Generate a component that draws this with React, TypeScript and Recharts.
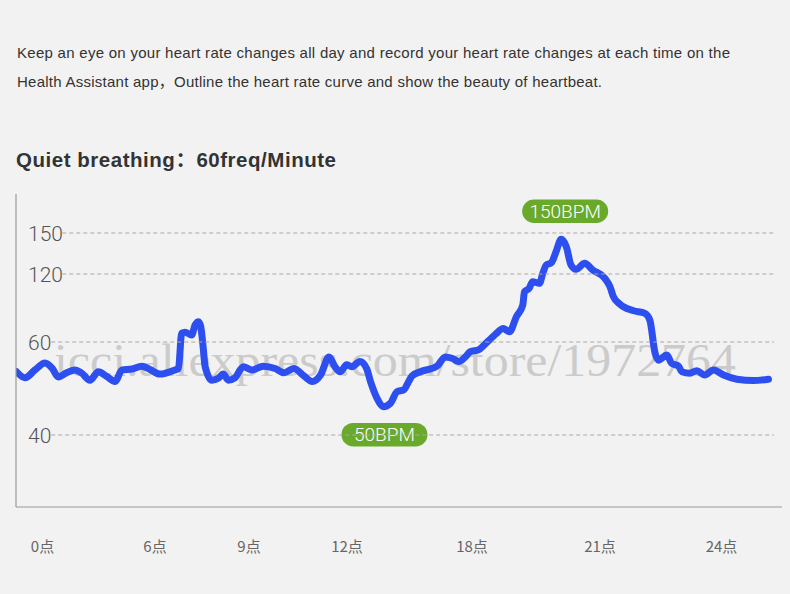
import React from 'react';
import { LineChart, Line, XAxis, YAxis, ReferenceDot } from 'recharts';

// ---------- data ----------
const hours = [
  -1.38, -0.93, -0.4, 0.13, 0.51, 0.84, 1.29, 1.73, 2.09, 2.53, 2.98, 3.39, 3.87, 4.24, 4.77, 5.29, 5.73,
  6.16, 6.64, 6.75, 6.85, 6.96, 7.17, 7.28, 7.39, 7.46, 7.53, 7.6, 7.81, 8.02, 8.18, 8.34, 8.55, 8.82,
  9.08, 9.44, 9.8, 10.07, 10.37, 10.68, 10.94, 11.19, 11.45, 11.63, 11.79, 11.99,
  12.23, 12.62, 12.94, 13.15, 13.43, 13.75, 14.08, 14.4, 14.72, 14.96, 15.12, 15.52, 16.32, 16.72, 17.04,
  17.36, 17.68, 17.92,
  18.15, 18.29, 18.45, 18.56, 18.73, 18.88, 19.04, 19.19, 19.23, 19.34, 19.42, 19.58, 19.66, 19.74, 19.86,
  19.97, 20.09, 20.21, 20.32, 20.44, 20.64, 20.83,
  21.12, 21.25, 21.33, 21.49, 21.58, 21.83, 22.11, 22.23, 22.36, 22.44, 22.65, 22.77, 22.94, 23.02, 23.22,
  23.39, 23.59, 23.8, 24.05, 24.38, 24.79, 25.16,
];
const heartRate = [
  53.6, 52.3, 54.0, 55.5, 54.4, 52.5, 53.4, 54.0, 53.3, 51.8, 53.6, 52.7, 51.5, 54.0, 54.2, 54.8, 54.1,
  53.1, 54.0, 54.3, 67.7, 68.6, 66.2, 75.0, 77.9, 73.5, 59.4, 54.7, 51.8, 52.2, 53.1, 51.8, 52.3, 54.7,
  54.0, 54.8, 54.3, 53.4, 54.3, 52.7, 51.5, 52.9, 56.8, 54.7, 53.6, 55.1,
  54.7, 55.8, 54.3, 51.2, 48.0, 46.1, 46.8, 49.3, 49.7, 51.5, 52.7, 53.6, 54.8, 56.8, 56.5,
  55.8, 56.8, 57.9,
  58.3, 59.4, 63.3, 67.1, 71.9, 69.1, 82.3, 92.6, 104.4, 107.4, 113.2, 111.8, 120.5, 126.6, 128.3,
  136.3, 145.4, 140.0, 126.6, 123.4, 127.8, 122.9,
  116.2, 108.5, 100.0, 93.5, 91.1, 87.6, 85.3, 79.4, 57.6, 56.1, 57.2, 55.4, 54.8, 53.6, 53.3,
  53.8, 52.9, 54.0, 52.9, 52.0, 51.7, 52.0,
];

const hourTicks = [0, 6, 9, 12, 18, 21, 24];
const hourTickLabels = ['0点', '6点', '9点', '12点', '18点', '21点', '24点'];
const bpmTicks = [40, 60, 120, 150];
const bpmTickLabels = ['40', '60', '120', '150'];
const peakLabel = '150BPM';
const lowLabel = '50BPM';

const introLine1 =
  'Keep an eye on your heart rate changes all day and record your heart rate changes at each time on the';
const introLine2 = 'Health Assistant app，Outline the heart rate curve and show the beauty of heartbeat.';
const title = 'Quiet breathing：60freq/Minute';
const watermark = 'icci.aliexpress.com/store/1972764';

// ---------- layout ----------
const W = 790;
const H = 594;
const PLOT = { left: 16, top: 194, right: 782, bottom: 507 };
const X_AXIS_H = 40;
const Y_AXIS_W = 1;
// the original chart uses uneven axis spacing: axis-unit stops for each tick
const X_STOPS = [26.5, 139, 233, 331, 456, 584, 705.5];
const Y_STOPS = [72, 165, 233, 274];
const X_DOMAIN: [number, number] = [0, PLOT.right - PLOT.left];
const Y_DOMAIN: [number, number] = [0, PLOT.bottom - PLOT.top];

function piecewise(v: number, keys: number[], stops: number[]) {
  let i = 0;
  if (v >= keys[keys.length - 1]) i = keys.length - 2;
  else if (v > keys[0]) {
    while (v > keys[i + 1]) i++;
  }
  const k0 = keys[i];
  const k1 = keys[i + 1];
  const s0 = stops[i];
  const s1 = stops[i + 1];
  return s0 + ((v - k0) * (s1 - s0)) / (k1 - k0);
}

const chartData = hours.map((h, i) => ({
  t: piecewise(h, hourTicks, X_STOPS),
  v: piecewise(heartRate[i], bpmTicks, Y_STOPS),
}));
const xTickLevels = hourTicks.map((h) => piecewise(h, hourTicks, X_STOPS));
const yTickLevels = bpmTicks.map((b) => piecewise(b, bpmTicks, Y_STOPS));

let peakIdx = 0;
let lowIdx = 0;
heartRate.forEach((v, i) => {
  if (v > heartRate[peakIdx]) peakIdx = i;
  if (v < heartRate[lowIdx]) lowIdx = i;
});

const findIdx = (arr: number[], v: number) => arr.findIndex((a) => Math.abs(a - v) < 1e-6);

const SANS = "'Liberation Sans', Arial, 'Noto Sans CJK SC', sans-serif";
const LIGHT = "Roboto, 'Noto Sans', 'Noto Sans CJK SC', sans-serif";

const XTick = (props: any) => {
  const { x, payload } = props;
  const i = findIdx(xTickLevels, payload.value);
  return (
    <text
      x={x}
      y={PLOT.bottom + 38}
      textAnchor="middle"
      dominantBaseline="central"
      fill="#666"
      fontSize={15}
      fontFamily="'Noto Sans CJK SC', sans-serif"
    >
      {hourTickLabels[i]}
    </text>
  );
};

const YTick = (props: any) => {
  const { y, payload } = props;
  const i = findIdx(yTickLevels, payload.value);
  const label = bpmTickLabels[i] ?? '';
  const tx = PLOT.left + 12;
  const lineStart = tx + label.length * 11.1 + 1;
  return (
    <g>
      <text x={tx} y={y} dy="0.36em" fill="#555" fontSize={21} fontWeight={300} fontFamily={LIGHT}>
        {label}
      </text>
      <line x1={lineStart} x2={774} y1={y} y2={y} stroke="#a8a8a8" strokeWidth={1} strokeDasharray="4 3" />
    </g>
  );
};

const makeBadge = (label: string, dx: number, dy: number) => (p: any) => {
  const bw = 86;
  const bh = 23.5;
  const cx = p.cx + dx;
  const cy = p.cy + dy;
  return (
    <g>
      <rect x={cx - bw / 2} y={cy - bh / 2} width={bw} height={bh} rx={bh / 2} fill="#6aaa2a" />
      <text
        x={cx}
        y={cy}
        dy="0.36em"
        textAnchor="middle"
        fill="#fff"
        fontSize={19}
        fontWeight={300}
        fontFamily={LIGHT}
      >
        {label}
      </text>
    </g>
  );
};

export default function App() {
  return (
    <div style={{ position: 'absolute', left: 0, top: 0, width: W, height: H, background: '#f2f2f2', overflow: 'hidden' }}>
      <svg width={W} height={H} style={{ position: 'absolute', left: 0, top: 0 }}>
        <text x={17} y={58.3} fontSize={15} fill="#333" fontFamily={SANS} textLength={713} lengthAdjust="spacing">
          {introLine1}
        </text>
        <text x={17} y={86.7} fontSize={15} fill="#333" fontFamily={SANS} textLength={585} lengthAdjust="spacing">
          {introLine2}
        </text>
        <text
          x={16}
          y={166.7}
          fontSize={20.5}
          fontWeight={700}
          fill="#333"
          fontFamily={SANS}
          textLength={320}
          lengthAdjust="spacing"
        >
          {title}
        </text>
        <text
          x={54}
          y={376}
          fontSize={46}
          fill="#cbcbcb"
          fontFamily="'Liberation Serif', 'DejaVu Serif', serif"
          textLength={682}
          lengthAdjust="spacingAndGlyphs"
        >
          {watermark}
        </text>
      </svg>
      <div style={{ position: 'absolute', left: 0, top: 0 }}>
        <LineChart
          width={W}
          height={H}
          data={chartData}
          margin={{
            top: PLOT.top,
            left: PLOT.left - Y_AXIS_W,
            right: W - PLOT.right,
            bottom: H - PLOT.bottom - X_AXIS_H,
          }}
        >
          <XAxis
            type="number"
            dataKey="t"
            domain={X_DOMAIN}
            ticks={xTickLevels}
            interval={0}
            height={X_AXIS_H}
            tickLine={false}
            axisLine={{ stroke: '#9a9a9a', strokeWidth: 1.2 }}
            tick={<XTick />}
            allowDataOverflow
          />
          <YAxis
            type="number"
            domain={Y_DOMAIN}
            ticks={yTickLevels}
            interval={0}
            width={Y_AXIS_W}
            tickLine={false}
            axisLine={{ stroke: '#9a9a9a', strokeWidth: 1.2 }}
            tick={<YTick />}
            allowDataOverflow
          />
          <Line
            type="monotone"
            dataKey="v"
            stroke="#2d4ff0"
            strokeWidth={7}
            strokeLinecap="round"
            strokeLinejoin="round"
            dot={false}
            activeDot={false}
            isAnimationActive={false}
          />
          <ReferenceDot
            x={chartData[peakIdx].t}
            y={chartData[peakIdx].v}
            r={0}
            shape={makeBadge(peakLabel, 4, -28)}
          />
          <ReferenceDot
            x={chartData[lowIdx].t}
            y={chartData[lowIdx].v}
            r={0}
            shape={makeBadge(lowLabel, 1, 28)}
          />
        </LineChart>
      </div>
    </div>
  );
}
